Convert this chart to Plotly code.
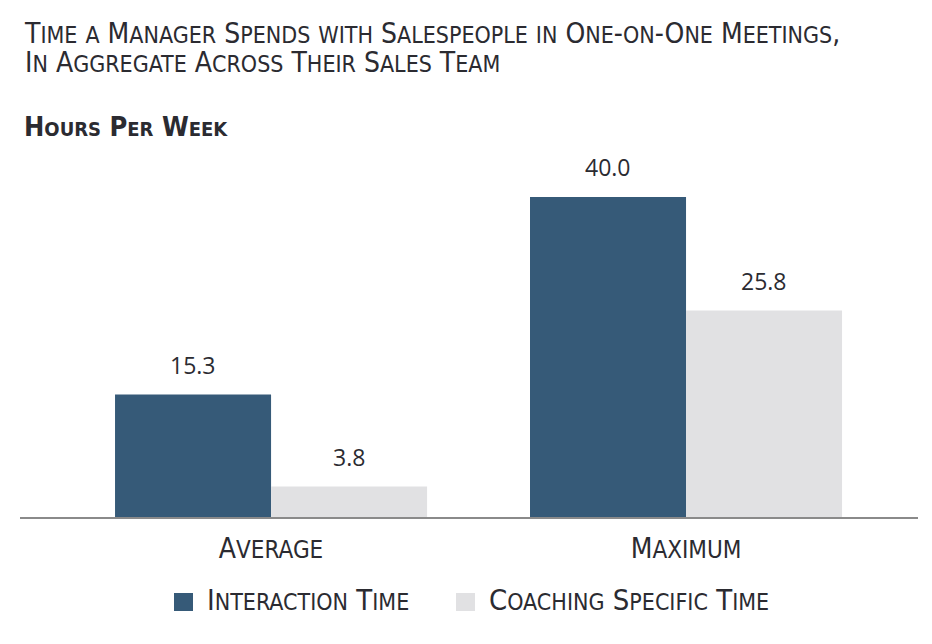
import re
import plotly.graph_objects as go

categories = ["Average", "Maximum"]
interaction = [15.3, 40.0]
coaching = [3.8, 25.8]
series_names = ["Interaction Time", "Coaching Specific Time"]
title_lines = ["Time a Manager Spends with Salespeople in One-on-One Meetings,",
               "In Aggregate Across Their Sales Team"]
subtitle = "Hours Per Week"

COLORS = ["#365a78", "#e1e1e3"]
TEXT = "#2b2b31"
NARROW = "Liberation Sans Narrow, DejaVu Sans Condensed, Arial Narrow, sans-serif"

# page body has an 8px margin, so the figure is 8px smaller than the window
W, H = 924, 636
M = dict(l=12, r=14, t=142, b=127)
PH = H - M["t"] - M["b"]


def sc(s, big, small):
    # fake small caps: lowercase runs become smaller uppercase
    def rep(m):
        t = m.group()
        size = small if t.islower() else big
        return '<span style="font-size:%dpx">%s</span>' % (size, t.upper())
    return re.sub(r"[a-z]+|[^a-z]+", rep, s)


def py(y):
    # reference pixel row -> paper y
    return (H - M["b"] - (y - 8)) / PH


def px(x):
    return (x - 8 - M["l"]) / (W - M["l"] - M["r"])


fig = go.Figure()
for name, vals, color in zip(series_names, [interaction, coaching], COLORS):
    fig.add_trace(go.Bar(
        name=name, x=categories, y=vals,
        marker=dict(color=color, line=dict(width=0)),
        showlegend=False,
    ))

# value labels above bars
for k, vals in enumerate([interaction, coaching]):
    for cat, v in zip(categories, vals):
        fig.add_annotation(
            x=cat, y=v, text="%.1f" % v, showarrow=False,
            xshift=-78 if k == 0 else 78, yshift=12, yanchor="bottom",
            font=dict(family="Open Sans, Liberation Sans, sans-serif", size=23, color=TEXT),
        )

# title: base size sets the 29px line spacing, spans set glyph sizes
fig.add_annotation(
    xref="paper", yref="paper", x=px(22), y=py(15),
    xanchor="left", yanchor="top", showarrow=False, align="left",
    text="<br>".join(sc(line, 28, 23) for line in title_lines),
    font=dict(family=NARROW, size=22.3, color=TEXT),
)
fig.add_annotation(
    xref="paper", yref="paper", x=px(22), y=py(144),
    xanchor="left", yanchor="bottom", showarrow=False,
    text="<b>" + sc(subtitle, 27, 20) + "</b>",
    font=dict(family=NARROW, size=27, color=TEXT),
)

# legend drawn by hand so the swatches can be 19px
legend_x = [174, 456]
for name, color, lx in zip(series_names, COLORS, legend_x):
    fig.add_shape(type="rect", xref="paper", yref="paper",
                  x0=px(lx), x1=px(lx + 19), y0=py(611), y1=py(593),
                  fillcolor=color, line=dict(width=0))
    fig.add_annotation(
        xref="paper", yref="paper", x=px(lx + 31), y=py(619),
        xanchor="left", yanchor="bottom", showarrow=False,
        text=sc(name, 29, 23),
        font=dict(family=NARROW, size=29, color=TEXT),
    )

fig.update_layout(
    width=W, height=H, margin=M,
    paper_bgcolor="white", plot_bgcolor="white",
    barmode="group", bargap=0.248, bargroupgap=0,
    font=dict(family=NARROW, color=TEXT),
)
fig.update_xaxes(
    range=[-0.605, 1.559], showline=True, linecolor="#8a8a8a", linewidth=1.5,
    ticks="", tickvals=categories, ticktext=[sc(c, 28, 24) for c in categories],
    tickfont=dict(family=NARROW, size=28, color=TEXT), ticklabelstandoff=6,
    showgrid=False, zeroline=False,
)
fig.update_yaxes(range=[0, PH / 8.0], visible=False, showgrid=False)

fig.write_html("out.html")
